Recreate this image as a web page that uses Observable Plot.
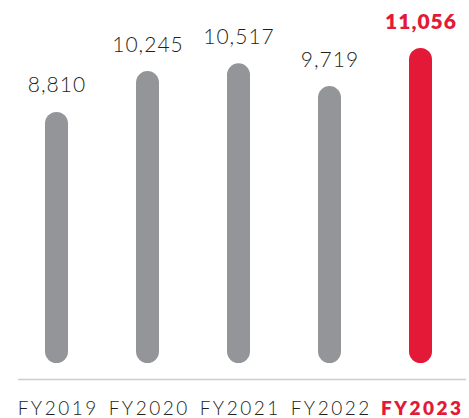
<!DOCTYPE html>
<html>
<head>
<meta charset="utf-8">
<script src="https://cdn.jsdelivr.net/npm/d3@7"></script>
<script src="https://cdn.jsdelivr.net/npm/@observablehq/plot@0.6"></script>
<style>
  html, body { margin: 0; padding: 0; background: #fff; }
</style>
</head>
<body>
<div id="chart"></div>
<script>
const years = ["FY2019", "FY2020", "FY2021", "FY2022", "FY2023"];
const values = [8810, 10245, 10517, 9719, 11056];
const highlight = "FY2023";

const data = years.map((year, i) => ({year, value: values[i]}));
const fmt = d3.format(",");
const isHi = d => d.year === highlight;
const notHi = d => d.year !== highlight;

const grey = "#939598";
const red = "#e31937";
const ink = "#231f20";

const chart = Plot.plot({
  width: 469,
  height: 418,
  marginTop: 48,
  marginBottom: 55,
  marginLeft: 44,
  marginRight: 36,
  style: {fontFamily: "Lato, sans-serif", letterSpacing: "1px", background: "#fff"},
  x: {domain: years, paddingInner: 0.75, paddingOuter: 0, axis: null},
  y: {domain: [0, d3.max(values)], axis: null},
  marks: [
    Plot.ruleY([0], {dy: 16, stroke: "#cccccc", strokeWidth: 1.5, insetLeft: -26, insetRight: -33}),
    Plot.barY(data, {x: "year", y: "value", fill: d => isHi(d) ? red : grey, rx: 11.5}),
    Plot.text(data, {filter: notHi, x: "year", y: "value", text: d => fmt(d.value), dy: -20, lineAnchor: "bottom", fontSize: 21, fontWeight: 300, fill: ink}),
    Plot.text(data, {filter: isHi, x: "year", y: "value", text: d => fmt(d.value), dy: -20, lineAnchor: "bottom", fontSize: 21, fontWeight: 800, fill: red}),
    Plot.text(data, {filter: notHi, x: "year", y: 0, text: "year", dx: 1.2, dy: 51, lineAnchor: "bottom", fontSize: 19, fontWeight: 300, fill: ink}),
    Plot.text(data, {filter: isHi, x: "year", y: 0, text: "year", dx: 1.2, dy: 51, lineAnchor: "bottom", fontSize: 19, fontWeight: 800, fill: red})
  ]
});
// wider tracking for the category labels (last two text layers)
const textLayers = chart.querySelectorAll('g[aria-label="text"]');
[textLayers[textLayers.length - 2], textLayers[textLayers.length - 1]].forEach(g => g.setAttribute("letter-spacing", "2.5px"));
document.getElementById("chart").appendChild(chart);
</script>
</body>
</html>
